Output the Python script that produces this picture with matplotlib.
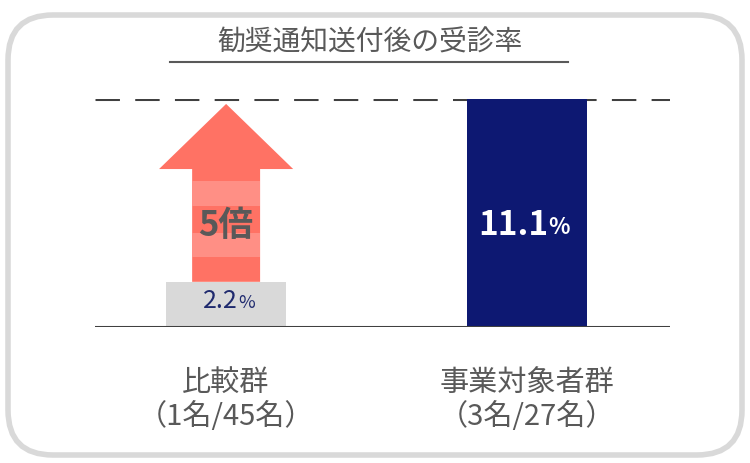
import matplotlib
matplotlib.use("Agg")
import matplotlib.pyplot as plt
from matplotlib.patches import FancyBboxPatch, Polygon, Rectangle

plt.rcParams['font.family'] = ['Noto Sans CJK JP', 'DejaVu Sans']

title = "勧奨通知送付後の受診率"
categories = ["比較群\n（1名/45名）", "事業対象者群\n（3名/27名）"]
values = [2.2, 11.1]
value_labels = ["2.2", "11.1"]
ratio_label = "5倍"
bar_colors = ["#D9D9D9", "#0D1872"]

W, H = 750, 464
fig = plt.figure(figsize=(W/100, H/100), dpi=100)
fig.patch.set_facecolor("white")

def fx(px): return px / W
def fy(py): return 1 - py / H

box = FancyBboxPatch((fx(8), fy(456)), fx(734), 440/H,
    boxstyle="round,pad=0,rounding_size=0.06", transform=fig.transFigure,
    fc="white", ec="#D9D9D9", lw=4, mutation_aspect=W/H, zorder=-10)
fig.patches.append(box)

ax = fig.add_axes([fx(95), fy(328), fx(670)-fx(95), 228/H])
ax.set_zorder(5)
ax.patch.set_alpha(0)
ax.set_xlim(-0.436, 1.476)
ax.set_ylim(0, values[1])
ax.axis("off")
x = [0, 1]
ax.bar(x, values, width=0.40, color=bar_colors, zorder=2)
ax.axhline(values[1], color="#404040", lw=2.2, ls=(0, (8, 5)), zorder=1)
ax.axhline(0, color="#404040", lw=2.2, zorder=3)

sw, hw = 0.113, 0.223
y0 = values[0]
yh = 7.69
yt = 10.86
ax.add_patch(Polygon([(-sw, y0), (sw, y0), (sw, yh), (hw, yh), (0, yt), (-hw, yh), (-sw, yh)],
                     closed=True, fc="#FF7264", ec="none", zorder=4))
for ya, yb in [(3.4, 4.6), (5.9, 7.1)]:
    ax.add_patch(Rectangle((-sw, ya), 2*sw, yb-ya, fc="#FF8F85", ec="none", zorder=5))
ax.text(0, 5.0, ratio_label, ha="center", va="center", fontsize=25, fontweight="bold",
        color="#595959", zorder=6)

ax.text(0.04, 1.3, value_labels[0], ha="right", va="center", fontsize=18,
        color="#1F2A6E", zorder=6)
ax.text(0.04, 1.2, "%", ha="left", va="center", fontsize=13, color="#1F2A6E", zorder=6)
ax.text(1.07, 5.0, value_labels[1], ha="right", va="center", fontsize=24, fontweight="bold",
        color="white", zorder=6)
ax.text(1.07, 4.9, "%", ha="left", va="center", fontsize=16, fontweight="bold",
        color="white", zorder=6)

fig.text(fx(370), fy(43), title, ha="center", va="center", fontsize=20, color="#595959")
fig.add_artist(plt.Line2D([fx(170), fx(568)], [fy(63), fy(63)], color="#595959", lw=1.5))

for cx, lab in zip([226, 527], categories):
    fig.text(fx(cx), fy(400), lab, ha="center", va="center", fontsize=21,
             color="#595959", linespacing=1.2)

fig.savefig("out.png", dpi=100, facecolor="white")
